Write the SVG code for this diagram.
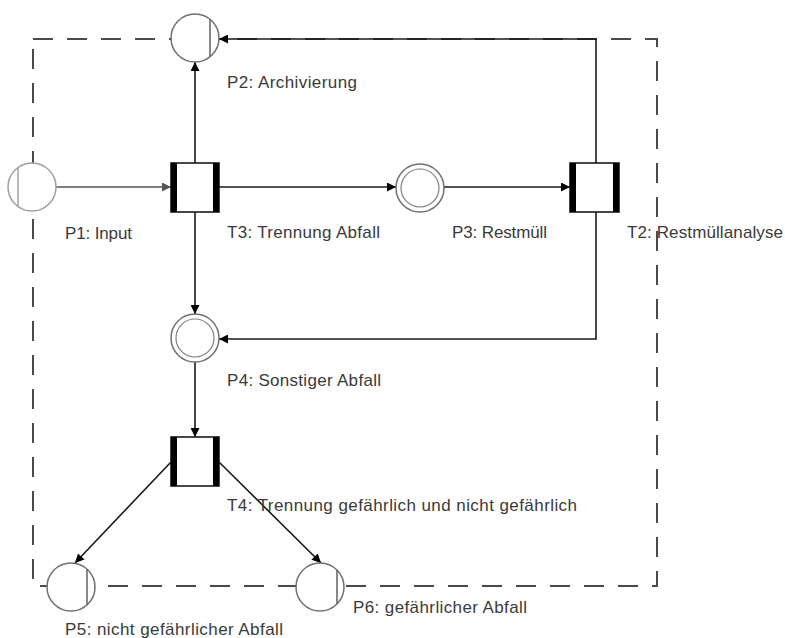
<svg xmlns="http://www.w3.org/2000/svg" width="785" height="638" viewBox="0 0 785 638">
  <style>
    .bg { fill: #ffffff; }
    .boundary { fill: none; stroke: #4a4a4a; stroke-width: 2; stroke-dasharray: 20 14; }
    .arc { fill: none; stroke: #1a1a1a; stroke-width: 1.6; }
    .arc-dim { fill: none; stroke: #555555; stroke-width: 1.6; }
    .place { fill: #ffffff; stroke: #707070; stroke-width: 1.5; }
    .place-dim { fill: #ffffff; stroke: #a0a0a0; stroke-width: 1.5; }
    .ring { fill: none; stroke: #808080; stroke-width: 1.2; }
    .mark { stroke: #606060; stroke-width: 1.5; }
    .mark-dim { stroke: #a0a0a0; stroke-width: 1.5; }
    .trans { fill: #ffffff; stroke: #1a1a1a; stroke-width: 1.6; }
    .bar { fill: #000000; }
    .label { font-family: "Liberation Sans", Arial, sans-serif; font-size: 17px; fill: #3a3a3a; }
  </style>
  <defs>
    <marker id="arrow" viewBox="0 0 10 10" refX="10" refY="5" markerWidth="11" markerHeight="9" markerUnits="userSpaceOnUse" orient="auto">
      <path d="M0,0 L10,5 L0,10 z" fill="#000000"/>
    </marker>
    <marker id="arrow-dim" viewBox="0 0 10 10" refX="10" refY="5" markerWidth="11" markerHeight="9" markerUnits="userSpaceOnUse" orient="auto">
      <path d="M0,0 L10,5 L0,10 z" fill="#555555"/>
    </marker>
  </defs>

  <rect class="bg" x="0" y="0" width="785" height="638"/>

  <!-- system boundary -->
  <rect id="boundary" class="boundary" x="33" y="39" width="624" height="547"/>

  <!-- arcs -->
  <g id="connectors">
    <line class="arc-dim" x1="56" y1="187" x2="171" y2="187" marker-end="url(#arrow-dim)"/>
    <line class="arc" x1="219" y1="187" x2="396" y2="187" marker-end="url(#arrow)"/>
    <line class="arc" x1="444" y1="187" x2="570" y2="187" marker-end="url(#arrow)"/>
    <line class="arc" x1="195" y1="163" x2="195" y2="62" marker-end="url(#arrow)"/>
    <polyline class="arc" points="596,163 596,39 219,39" marker-end="url(#arrow)"/>
    <polyline class="arc" points="596,212 596,339 219,339" marker-end="url(#arrow)"/>
    <line class="arc" x1="195" y1="212" x2="195" y2="314" marker-end="url(#arrow)"/>
    <line class="arc" x1="195" y1="362" x2="195" y2="437" marker-end="url(#arrow)"/>
    <line class="arc" x1="171" y1="462" x2="75" y2="563" marker-end="url(#arrow)"/>
    <line class="arc" x1="219" y1="462" x2="321" y2="563" marker-end="url(#arrow)"/>
  </g>

  <!-- places -->
  <g id="P1">
    <circle class="place-dim" cx="32" cy="187" r="24"/>
    <line class="mark-dim" x1="18" y1="167.5" x2="18" y2="206.5"/>
    <text class="label" x="65" y="239" textLength="67" lengthAdjust="spacing">P1: Input</text>
  </g>
  <g id="P2">
    <circle class="place" cx="195" cy="38" r="24"/>
    <line class="mark" x1="210" y1="19.3" x2="210" y2="56.7"/>
    <text class="label" x="227" y="88" textLength="130" lengthAdjust="spacing">P2: Archivierung</text>
  </g>
  <g id="P3">
    <circle class="place" cx="420" cy="188" r="24"/>
    <circle class="ring" cx="420" cy="188" r="19"/>
    <text class="label" x="452" y="238" textLength="95" lengthAdjust="spacing">P3: Restmüll</text>
  </g>
  <g id="P4">
    <circle class="place" cx="195" cy="338" r="24"/>
    <circle class="ring" cx="195" cy="338" r="19"/>
    <text class="label" x="227" y="386" textLength="154" lengthAdjust="spacing">P4: Sonstiger Abfall</text>
  </g>
  <g id="P5">
    <circle class="place" cx="71" cy="587" r="24"/>
    <line class="mark" x1="87" y1="569.1" x2="87" y2="604.9"/>
    <text class="label" x="65" y="635" textLength="218" lengthAdjust="spacing">P5: nicht gefährlicher Abfall</text>
  </g>
  <g id="P6">
    <circle class="place" cx="320" cy="587" r="24"/>
    <line class="mark" x1="337" y1="570.1" x2="337" y2="603.9"/>
    <text class="label" x="353" y="613" textLength="174" lengthAdjust="spacing">P6: gefährlicher Abfall</text>
  </g>

  <!-- transitions -->
  <g id="T3">
    <rect class="trans" x="171" y="163" width="48" height="49"/>
    <rect class="bar" x="171" y="163" width="6" height="49"/>
    <rect class="bar" x="213" y="163" width="6" height="49"/>
    <text class="label" x="227" y="238" textLength="153" lengthAdjust="spacing">T3: Trennung Abfall</text>
  </g>
  <g id="T2">
    <rect class="trans" x="570" y="163" width="49" height="49"/>
    <rect class="bar" x="570" y="163" width="6" height="49"/>
    <rect class="bar" x="613" y="163" width="6" height="49"/>
    <text class="label" x="627" y="238" textLength="156" lengthAdjust="spacing">T2: Restmüllanalyse</text>
  </g>
  <g id="T4">
    <rect class="trans" x="171" y="437" width="48" height="49"/>
    <rect class="bar" x="171" y="437" width="6" height="49"/>
    <rect class="bar" x="213" y="437" width="6" height="49"/>
    <text class="label" x="227" y="511" textLength="350" lengthAdjust="spacing">T4: Trennung gefährlich und nicht gefährlich</text>
  </g>
</svg>
